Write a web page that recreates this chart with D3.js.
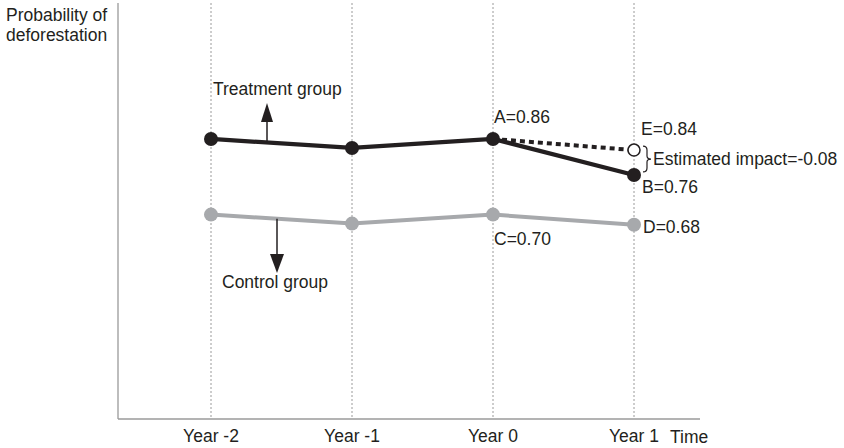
<!DOCTYPE html>
<html><head><meta charset="utf-8">
<script src="https://cdn.jsdelivr.net/npm/d3@7"></script>
<style>body{margin:0;background:#fff}svg{display:block}text{font-family:"Liberation Sans",Arial,sans-serif;font-size:17.5px;fill:#231f20}</style>
</head><body><svg id="c" width="844" height="448"></svg>
<script>
const categories = ["Year -2", "Year -1", "Year 0", "Year 1"];
const treatment = [0.86, 0.835, 0.86, 0.76];
const control = [0.65, 0.625, 0.65, 0.622];
const counterfactual = [0.86, 0.829]; // Year 0 -> Year 1 (E)
const pointLabels = [
  {text: "A=0.86", cat: "Year 0", v: 0.86},
  {text: "E=0.84", cat: "Year 1", v: 0.829},
  {text: "B=0.76", cat: "Year 1", v: 0.76},
  {text: "C=0.70", cat: "Year 0", v: 0.65},
  {text: "D=0.68", cat: "Year 1", v: 0.622}
];

const svg = d3.select("#c");
const x = d3.scalePoint().domain(categories).range([211, 634]);
const y = d3.scaleLinear().domain([0.08, 1.24]).range([420, 2]);
const ink = "#231f20", grey = "#a7a9ac", axisC = "#9a9a9a";

// dotted verticals
svg.append("g").selectAll("line").data(categories).join("line")
  .attr("x1", d => x(d)).attr("x2", d => x(d)).attr("y1", 3).attr("y2", 419)
  .attr("stroke", axisC).attr("stroke-width", 1).attr("stroke-dasharray", "2,2");

// axes
svg.append("line").attr("x1", 118).attr("x2", 118).attr("y1", 3).attr("y2", 419).attr("stroke", axisC).attr("stroke-width", 1.3);
svg.append("line").attr("x1", 118).attr("x2", 700).attr("y1", 419).attr("y2", 419).attr("stroke", axisC).attr("stroke-width", 1.3);

// axis tick labels
svg.append("g").selectAll("text").data(categories).join("text")
  .attr("x", d => x(d)).attr("y", 442).attr("text-anchor", "middle").text(d => d);
svg.append("text").attr("x", 670).attr("y", 443).text("Time");
svg.append("text").attr("x", 6).attr("y", 21).text("Probability of");
svg.append("text").attr("x", 6).attr("y", 41).text("deforestation");

const line = d3.line().x((d, i) => x(categories[i])).y(d => y(d));

// control
svg.append("path").datum(control).attr("d", line).attr("fill", "none").attr("stroke", grey).attr("stroke-width", 4);
svg.append("g").selectAll("circle").data(control).join("circle")
  .attr("cx", (d, i) => x(categories[i])).attr("cy", d => y(d)).attr("r", 7).attr("fill", grey);

// counterfactual dashed
const cfLine = d3.line().x((d, i) => x(categories[i + 2])).y(d => y(d));
svg.append("path").datum(counterfactual).attr("d", cfLine).attr("fill", "none").attr("stroke", ink).attr("stroke-width", 4).attr("stroke-dasharray", "5,4");

// treatment
svg.append("path").datum(treatment).attr("d", line).attr("fill", "none").attr("stroke", ink).attr("stroke-width", 4.3);
svg.append("g").selectAll("circle").data(treatment).join("circle")
  .attr("cx", (d, i) => x(categories[i])).attr("cy", d => y(d)).attr("r", 7).attr("fill", ink);

// E open circle
svg.append("circle").attr("cx", x("Year 1")).attr("cy", y(counterfactual[1])).attr("r", 6)
  .attr("fill", "#fff").attr("stroke", ink).attr("stroke-width", 1.5);

// point labels
const offs = {"A=0.86": [1, -16], "E=0.84": [7, -15], "B=0.76": [8, 18], "C=0.70": [1, 30], "D=0.68": [9, 8]};
svg.append("g").selectAll("text").data(pointLabels).join("text")
  .attr("x", d => x(d.cat) + offs[d.text][0]).attr("y", d => y(d.v) + offs[d.text][1]).text(d => d.text);

// brace + impact
const bx = 647, by0 = y(counterfactual[1]) - 4, by1 = y(treatment[3]) - 3, bm = (by0 + by1) / 2;
svg.append("path").attr("d",
  `M${bx - 4},${by0} Q${bx},${by0} ${bx},${by0 + 4} L${bx},${bm - 3} Q${bx},${bm} ${bx + 4},${bm} Q${bx},${bm} ${bx},${bm + 3} L${bx},${by1 - 4} Q${bx},${by1} ${bx - 4},${by1}`)
  .attr("fill", "none").attr("stroke", ink).attr("stroke-width", 1.2);
svg.append("text").attr("x", 653).attr("y", bm + 6).text("Estimated impact=-0.08");

// arrows
// treatment arrow (up)
const tx = 267, tyLine = y(treatment[0]) + (y(treatment[1]) - y(treatment[0])) * (tx - x(categories[0])) / (x(categories[1]) - x(categories[0]));
svg.append("line").attr("x1", tx).attr("x2", tx).attr("y1", tyLine).attr("y2", 120).attr("stroke", ink).attr("stroke-width", 1.5);
svg.append("path").attr("d", `M${tx},103 L${tx + 6},122 L${tx - 6},122 Z`).attr("fill", ink);
svg.append("text").attr("x", 213).attr("y", 95).text("Treatment group");
// control arrow (down)
const cx = 277, cyLine = y(control[0]) + (y(control[1]) - y(control[0])) * (cx - x(categories[0])) / (x(categories[1]) - x(categories[0]));
svg.append("line").attr("x1", cx).attr("x2", cx).attr("y1", cyLine).attr("y2", 257).attr("stroke", ink).attr("stroke-width", 1.5);
svg.append("path").attr("d", `M${cx},273 L${cx + 7},254 L${cx - 7},254 Z`).attr("fill", ink);
svg.append("text").attr("x", 222).attr("y", 288).text("Control group");
</script></body></html>
